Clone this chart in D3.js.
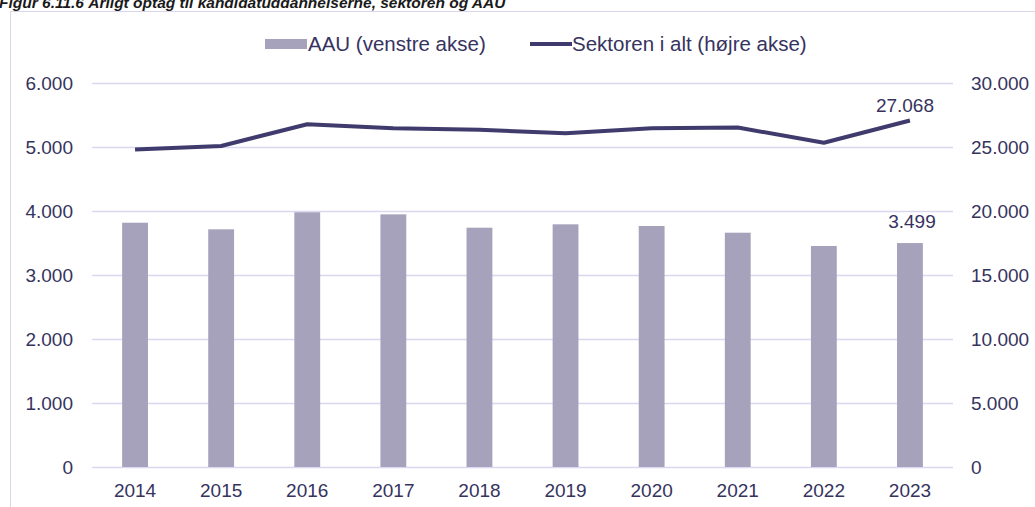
<!DOCTYPE html>
<html>
<head>
<meta charset="utf-8">
<script src="https://cdn.jsdelivr.net/npm/d3@7"></script>
<style>
  body { margin: 0; background: #fff; }
  svg { display: block; font-family: "Liberation Sans", Arial, sans-serif; }
</style>
</head>
<body>
<div id="chart"></div>
<script>
const years = ["2014", "2015", "2016", "2017", "2018", "2019", "2020", "2021", "2022", "2023"];
const aau = [3817, 3714, 3980, 3948, 3739, 3792, 3766, 3661, 3453, 3499];
const sektoren = [24800, 25080, 26780, 26470, 26340, 26080, 26460, 26520, 25330, 27068];
const leftTicks = [0, 1000, 2000, 3000, 4000, 5000, 6000];
const rightTicks = [0, 5000, 10000, 15000, 20000, 25000, 30000];
const legendLabels = ["AAU (venstre akse)", "Sektoren i alt (højre akse)"];
const title = "Figur 6.11.6 Årligt optag til kandidatuddannelserne, sektoren og AAU";

const width = 1035, height = 507;
const margin = { top: 83, right: 82, bottom: 40, left: 92 };
const innerWidth = width - margin.left - margin.right;
const innerHeight = 467 - margin.top;

const textColor = "#36335e";
const barColor = "#a6a2bb";
const lineColor = "#3f3b6d";
const gridColor = "#dad7f1";

const locale = d3.formatLocale({ decimal: ",", thousands: ".", grouping: [3], currency: ["", ""] });
const fmt = locale.format(",d");

const svg = d3.select("#chart").append("svg").attr("width", width).attr("height", height);

// frame (only top and left edges show)
svg.append("path")
  .attr("d", `M10.5,${height}V11.5H${width}`)
  .attr("fill", "none").attr("stroke", "#d8d5ec");

// title, cut off at the top like the source
svg.append("text")
  .attr("x", -1).attr("y", 8)
  .attr("font-size", 15.5).attr("font-weight", "bold").attr("font-style", "italic")
  .attr("fill", "#1a1a1a")
  .text(title);

const chart = svg.append("g").attr("transform", `translate(${margin.left},${margin.top})`);

const x = d3.scaleBand().domain(years).range([0, innerWidth]).paddingInner(0.7).paddingOuter(0.35);
const yLeft = d3.scaleLinear().domain([0, 6000]).range([innerHeight, 0]);
const yRight = d3.scaleLinear().domain([0, 30000]).range([innerHeight, 0]);

// grid + left axis
const leftAxis = chart.append("g")
  .call(d3.axisLeft(yLeft).tickValues(leftTicks).tickFormat(fmt).tickSize(-innerWidth).tickPadding(19));
leftAxis.select(".domain").remove();
leftAxis.selectAll("line").attr("stroke", gridColor).attr("stroke-width", 1.3);
leftAxis.selectAll("text").attr("fill", textColor).attr("font-size", 19);

const rightAxis = chart.append("g").attr("transform", `translate(${innerWidth},0)`)
  .call(d3.axisRight(yRight).tickValues(rightTicks).tickFormat(fmt).tickSize(0).tickPadding(18));
rightAxis.select(".domain").remove();
rightAxis.selectAll("text").attr("fill", textColor).attr("font-size", 19);

const xAxis = chart.append("g").attr("transform", `translate(0,${innerHeight})`)
  .call(d3.axisBottom(x).tickSize(0).tickPadding(17));
xAxis.select(".domain").remove();
xAxis.selectAll("text").attr("fill", textColor).attr("font-size", 19);

// bars
chart.selectAll(".bar").data(years).join("rect")
  .attr("class", "bar")
  .attr("x", d => x(d))
  .attr("width", x.bandwidth())
  .attr("y", (d, i) => yLeft(aau[i]))
  .attr("height", (d, i) => innerHeight - yLeft(aau[i]))
  .attr("fill", barColor);

// line
const line = d3.line()
  .x(d => x(d[0]) + x.bandwidth() / 2)
  .y(d => yRight(d[1]));
chart.append("path")
  .datum(years.map((y, i) => [y, sektoren[i]]))
  .attr("d", line)
  .attr("fill", "none")
  .attr("stroke", lineColor)
  .attr("stroke-width", 4)
  .attr("stroke-linejoin", "round");

// labels for last year
const last = years.length - 1;
chart.append("text")
  .attr("x", x(years[last]) + x.bandwidth() / 2 - 5)
  .attr("y", yRight(sektoren[last]) - 9)
  .attr("text-anchor", "middle").attr("font-size", 19).attr("fill", textColor)
  .text(fmt(sektoren[last]));
chart.append("text")
  .attr("x", x(years[last]) + x.bandwidth() / 2 + 2)
  .attr("y", yLeft(aau[last]) - 15)
  .attr("text-anchor", "middle").attr("font-size", 19).attr("fill", textColor)
  .text(fmt(aau[last]));

// legend
const legend = svg.append("g").attr("transform", "translate(265,44)");
legend.append("rect").attr("x", 0).attr("y", -5).attr("width", 42).attr("height", 10).attr("fill", barColor);
legend.append("text").attr("x", 43).attr("y", 0).attr("dy", "0.35em")
  .attr("font-size", 20.5).attr("fill", textColor).text(legendLabels[0]);
legend.append("line").attr("x1", 265).attr("x2", 307).attr("y1", 0).attr("y2", 0)
  .attr("stroke", lineColor).attr("stroke-width", 4);
legend.append("text").attr("x", 307).attr("y", 0).attr("dy", "0.35em")
  .attr("font-size", 20.5).attr("fill", textColor).text(legendLabels[1]);
</script>
</body>
</html>
